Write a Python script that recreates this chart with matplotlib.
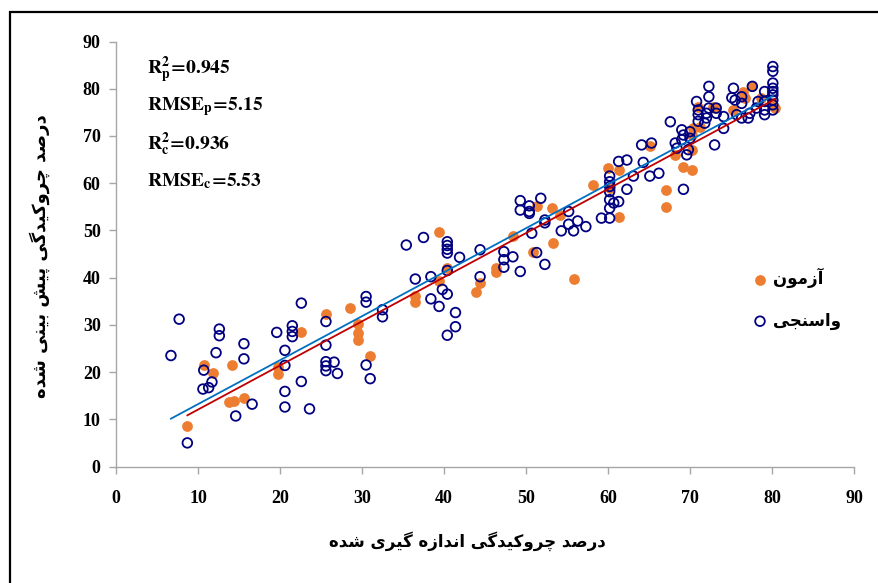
#!/usr/bin/env python3
# -*- coding: utf-8 -*-

"""
Measured vs predicted shrinkage percentage, calibration and test sets.
"""

### Import Space ###

import numpy as np
import matplotlib
matplotlib.use("Agg")
import matplotlib.pyplot as plt
from matplotlib.patches import Rectangle

### Global Var/stat ###

# test set (orange, filled)
test_x = [8.7, 10.7, 11.8, 14.1, 13.8, 14.4, 15.6, 19.8, 19.8, 22.6, 25.6, 28.5,
          29.5, 29.5, 29.5, 31.0, 36.5, 36.5, 39.4, 39.4, 40.4, 43.9, 44.4, 46.4,
          46.4, 48.4, 50.9, 51.3, 53.2, 54.2, 53.3, 55.8, 58.2, 60.0, 61.3, 60.2,
          61.3, 65.1, 67.1, 67.1, 68.2, 69.2, 70.2, 70.4, 70.2, 70.2, 71.0, 71.2,
          72.8, 73.1, 75.3, 76.5, 76.7, 77.5, 78.7, 80.4, 80.0]
test_y = [8.6, 21.6, 19.7, 21.4, 13.7, 13.8, 14.6, 21.1, 19.5, 28.4, 32.2, 33.6,
          30.2, 28.2, 26.8, 23.4, 36.1, 34.9, 49.6, 39.2, 42.0, 37.0, 38.8, 42.0,
          41.1, 48.8, 45.5, 55.2, 54.7, 53.3, 47.4, 39.7, 59.6, 63.2, 62.8, 58.9,
          52.9, 67.8, 58.6, 55.0, 66.0, 63.5, 62.8, 71.6, 70.2, 67.1, 76.2, 72.0,
          76.2, 75.9, 75.5, 79.4, 78.0, 80.5, 78.0, 75.9, 77.0]

# calibration set (navy, open)
cal_x = [7.7, 6.7, 12.6, 12.6, 12.2, 15.6, 15.6, 10.7, 11.7, 10.6, 11.3, 16.6,
         14.6, 8.7, 19.6, 21.5, 21.5, 21.5, 20.6, 20.6, 22.6, 22.6, 20.6, 20.6,
         23.6, 25.6, 25.6, 25.6, 25.6, 25.6, 26.6, 27.0, 30.5, 30.5, 30.5, 31.0,
         32.5, 32.5, 35.4, 37.5, 36.5, 38.4, 38.4, 39.4, 39.8, 40.4, 40.4, 40.4,
         40.4, 40.4, 40.4, 41.9, 41.4, 41.4, 40.4, 44.4, 44.4, 47.3, 47.3, 47.3,
         48.4, 49.3, 49.3, 49.3, 50.4, 50.4, 50.4, 51.8, 50.7, 51.3, 52.3, 52.3,
         52.3, 54.3, 55.2, 55.2, 55.8, 56.3, 57.3, 59.2,
         60.2, 60.7, 61.3, 60.2, 60.2, 60.2, 60.2, 60.2, 60.2, 61.3, 62.3, 62.3,
         63.1, 64.1, 65.3, 64.3, 65.1, 66.2, 67.6, 68.2, 68.4, 69.0, 69.2, 69.0,
         70.0, 70.0, 69.6, 69.8, 69.2, 70.8, 71.0, 71.0, 71.0, 71.8, 72.0, 72.0,
         72.3, 72.3, 72.3, 73.2, 73.2, 74.1, 74.1, 73.0, 75.3, 75.1, 75.5, 76.3,
         76.3, 75.7, 76.3, 77.1, 77.3, 77.6, 78.1, 78.3, 79.1, 79.1, 79.1, 79.1,
         80.1, 80.1, 80.1, 80.1, 80.1, 80.1, 80.1, 80.1, 80.1]
cal_y = [31.2, 23.5, 29.1, 27.7, 24.1, 26.0, 22.8, 20.4, 17.9, 16.4, 16.7, 13.2,
         10.7, 5.0, 28.4, 29.8, 28.6, 27.5, 24.6, 21.4, 34.6, 18.0, 15.9, 12.6,
         12.2, 30.7, 25.7, 22.2, 21.3, 20.3, 22.1, 19.7, 36.0, 34.8, 21.5, 18.6,
         33.2, 31.7, 46.9, 48.5, 39.7, 40.2, 35.5, 33.9, 37.5, 36.5, 47.6, 46.8,
         46.0, 45.2, 41.5, 44.3, 32.6, 29.6, 27.8, 45.9, 40.2, 45.5, 43.8, 42.2,
         44.4, 41.3, 56.3, 54.3, 55.2, 54.0, 53.6, 56.8, 49.4, 45.3, 42.8, 52.2,
         51.6, 49.9, 54.0, 51.3, 49.9, 52.0, 50.8, 52.6,
         52.6, 55.8, 56.1, 56.5, 54.7, 61.5, 60.3, 59.3, 58.2, 64.6, 64.9, 58.7,
         61.5, 68.1, 68.5, 64.4, 61.5, 62.1, 73.0, 68.5, 67.4, 71.3, 70.2, 69.2,
         70.9, 69.5, 66.0, 67.1, 58.7, 77.3, 75.5, 74.5, 73.1, 72.7, 74.8, 73.8,
         80.5, 78.3, 75.9, 75.9, 74.8, 74.1, 71.6, 68.1, 80.1, 78.1, 77.6, 78.3,
         76.9, 74.5, 73.8, 73.8, 74.8, 80.5, 75.9, 77.3, 79.4, 77.3, 75.5, 74.5,
         84.7, 83.7, 81.2, 80.1, 79.4, 78.7, 77.6, 76.6, 75.5]

ticks = np.arange(0, 91, 10)

stats_lines = [r"$\mathbf{R^2_p\!=\!0.945}$",
               r"$\mathbf{RMSE_p\!=\!5.15}$",
               r"$\mathbf{R^2_c\!=\!0.936}$",
               r"$\mathbf{RMSE_c\!=\!5.53}$"]

xlabel_fa = "درصد چروکیدگی اندازه گیری شده"
ylabel_fa = "درصد چروکیدگی پیش بینی شده"
test_label = "آزمون"
cal_label = "واسنجی"

ORANGE = "#ED7D31"
NAVY = "#000080"

### Function/Class Space ###

# presentation forms: (isolated, final, initial, medial); 2-tuples only join to the right
FORMS = {
    "ا": ("\uFE8D", "\uFE8E"), "آ": ("\uFE81", "\uFE82"),
    "د": ("\uFEA9", "\uFEAA"), "ر": ("\uFEAD", "\uFEAE"),
    "ز": ("\uFEAF", "\uFEB0"), "و": ("\uFEED", "\uFEEE"),
    "ب": ("\uFE8F", "\uFE90", "\uFE91", "\uFE92"),
    "پ": ("\uFB56", "\uFB57", "\uFB58", "\uFB59"),
    "ج": ("\uFE9D", "\uFE9E", "\uFE9F", "\uFEA0"),
    "چ": ("\uFB7A", "\uFB7B", "\uFB7C", "\uFB7D"),
    "س": ("\uFEB1", "\uFEB2", "\uFEB3", "\uFEB4"),
    "ش": ("\uFEB5", "\uFEB6", "\uFEB7", "\uFEB8"),
    "ص": ("\uFEB9", "\uFEBA", "\uFEBB", "\uFEBC"),
    "ک": ("\uFB8E", "\uFB8F", "\uFB90", "\uFB91"),
    "گ": ("\uFB92", "\uFB93", "\uFB94", "\uFB95"),
    "م": ("\uFEE1", "\uFEE2", "\uFEE3", "\uFEE4"),
    "ن": ("\uFEE5", "\uFEE6", "\uFEE7", "\uFEE8"),
    "ه": ("\uFEE9", "\uFEEA", "\uFEEB", "\uFEEC"),
    "ی": ("\uFBFC", "\uFBFD", "\uFBFE", "\uFBFF"),
}


def shape_fa(text):
    """Join persian letters and reverse them so matplotlib draws them right to left"""
    out = []
    for i, ch in enumerate(text):
        if ch not in FORMS:
            out.append(ch)
            continue
        prev = text[i - 1] if i > 0 else ""
        nxt = text[i + 1] if i + 1 < len(text) else ""
        join_prev = prev in FORMS and len(FORMS[prev]) == 4
        join_next = len(FORMS[ch]) == 4 and nxt in FORMS
        f = FORMS[ch]
        if join_prev and join_next:
            out.append(f[3])
        elif join_prev:
            out.append(f[1])
        elif join_next:
            out.append(f[2])
        else:
            out.append(f[0])
    return "".join(out)[::-1]


def trend(x, y):
    coef = np.polyfit(x, y, 1)
    xx = np.array([min(x), max(x)])
    return xx, np.polyval(coef, xx)

### Running Script Space ###

if __name__ == '__main__':
    plt.rcParams['font.family'] = ['Liberation Serif', 'DejaVu Sans']
    plt.rcParams['mathtext.fontset'] = 'stix'

    fig = plt.figure(figsize=(8.79, 5.83), dpi=100)
    ax = fig.add_axes([116 / 879, 1 - 466.5 / 583, 738 / 879, 425 / 583])

    h_test = ax.scatter(test_x, test_y, s=60, color=ORANGE, linewidths=0, zorder=3)
    h_cal = ax.scatter(cal_x, cal_y, s=48, facecolors="none", edgecolors=NAVY,
                       linewidths=1.3, zorder=4)

    tx, ty = trend(cal_x, cal_y)
    ax.plot(tx, ty, color="#0070C0", lw=1.3, zorder=5)
    tx, ty = trend(test_x, test_y)
    ax.plot(tx, ty, color="#C00000", lw=1.3, zorder=5)

    ax.set_xlim(0, 90)
    ax.set_ylim(0, 90)
    ax.set_xticks(ticks)
    ax.set_yticks(ticks)
    for side in ("top", "right"):
        ax.spines[side].set_visible(False)
    for side in ("left", "bottom"):
        ax.spines[side].set_color("#A6A6A6")
        ax.spines[side].set_linewidth(1.0)
    ax.tick_params(direction="out", length=5, width=1.0, color="#A6A6A6",
                   labelsize=13, pad=6)
    ax.tick_params(axis="x", pad=12)
    for lab in ax.get_xticklabels() + ax.get_yticklabels():
        lab.set_fontweight("bold")

    for i, s in enumerate(stats_lines):
        fig.text(147 / 879, 1 - (70 + 37 * i) / 583, s, fontsize=14,
                 va="center", ha="left")

    fig.text(467 / 879, 1 - 541 / 583, shape_fa(xlabel_fa), family="DejaVu Sans",
             fontweight="bold", fontsize=12, ha="center", va="center")
    fig.text(40 / 879, 1 - 256 / 583, shape_fa(ylabel_fa), family="DejaVu Sans",
             fontweight="bold", fontsize=13, ha="center", va="center", rotation=90)

    leg = ax.legend([h_test, h_cal], [shape_fa(test_label), shape_fa(cal_label)],
                    loc="upper left", bbox_to_anchor=(750 / 879, 1 - 268 / 583),
                    bbox_transform=fig.transFigure, frameon=False,
                    handletextpad=0.2, labelspacing=1.4, handlelength=1.2,
                    borderaxespad=0, borderpad=0,
                    prop={"family": "DejaVu Sans", "weight": "bold", "size": 12})

    fig.patches.append(Rectangle((10 / 879, -0.5), 2, 0.5 + 1 - 12 / 583,
                                 transform=fig.transFigure, fill=False,
                                 edgecolor="black", lw=1.6))

    fig.savefig("out.png", dpi=100)
